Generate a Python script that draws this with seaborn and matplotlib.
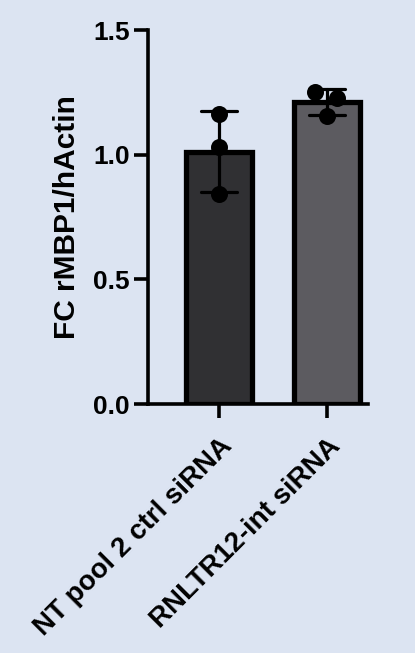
import matplotlib
matplotlib.use("Agg")
import matplotlib.pyplot as plt
import seaborn as sns
import pandas as pd
import numpy as np

categories = ["NT pool 2 ctrl siRNA", "RNLTR12-int siRNA"]
ctrl_values = [1.165, 1.031, 0.842]
kd_values = [1.252, 1.228, 1.154]
y_ticks = [0.0, 0.5, 1.0, 1.5]
y_label = "FC rMBP1/hActin"

# style: horizontal scatter offsets of replicate dots
dot_dx = [0.0, 0.0, 0.0, -0.11, 0.095, 0.0]

bg = "#dce4f2"
bar_colors = ["#2f2f34", "#5b5a61"]

sns.set_theme(style="ticks")
plt.rcParams["font.family"] = ["Liberation Sans", "DejaVu Sans"]
plt.rcParams["font.weight"] = "bold"
plt.rcParams["axes.labelweight"] = "bold"

df = pd.DataFrame({
    "group": [categories[0]] * len(ctrl_values) + [categories[1]] * len(kd_values),
    "value": ctrl_values + kd_values,
})

fig = plt.figure(figsize=(4.15, 6.53), dpi=100, facecolor=bg)
ax = fig.add_axes([148 / 415, 1 - 404 / 653, (368 - 148) / 415, (404 - 30) / 653])
ax.set_facecolor(bg)

sns.barplot(data=df, x="group", y="value", hue="group", order=categories,
            hue_order=categories, palette=bar_colors, legend=False,
            errorbar="sd", capsize=0.33, width=0.61, linewidth=3.8,
            edgecolor="black",
            err_kws={"color": "black", "linewidth": 2.3}, ax=ax)

df["xpos"] = df["group"].map({c: i for i, c in enumerate(categories)}) + np.array(dot_dx)
sns.scatterplot(data=df, x="xpos", y="value", color="black", s=150,
                edgecolor="black", linewidth=0, zorder=5, ax=ax)

ax.set_xlim(-0.657, 1.38)
ax.set_ylim(0, 1.5)
ax.set_yticks(y_ticks)
ax.set_yticklabels([f"{t:.1f}" for t in y_ticks], fontsize=19, fontweight="bold")
ax.set_xticks(range(len(categories)))
ax.set_xticklabels(categories, rotation=45, ha="right", rotation_mode="anchor",
                   fontsize=20, fontweight="bold")
ax.set_xlabel("")
ax.set_ylabel(y_label, fontsize=21.5, fontweight="bold", color="black", labelpad=9)

for s in ["top", "right"]:
    ax.spines[s].set_visible(False)
for s in ["left", "bottom"]:
    ax.spines[s].set_linewidth(2.6)
    ax.spines[s].set_color("black")
ax.tick_params(axis="y", length=10, width=2.6, pad=3, colors="black")
ax.tick_params(axis="x", length=10, width=2.6, pad=11, colors="black")

fig.savefig("out.png", dpi=100, facecolor=bg)
